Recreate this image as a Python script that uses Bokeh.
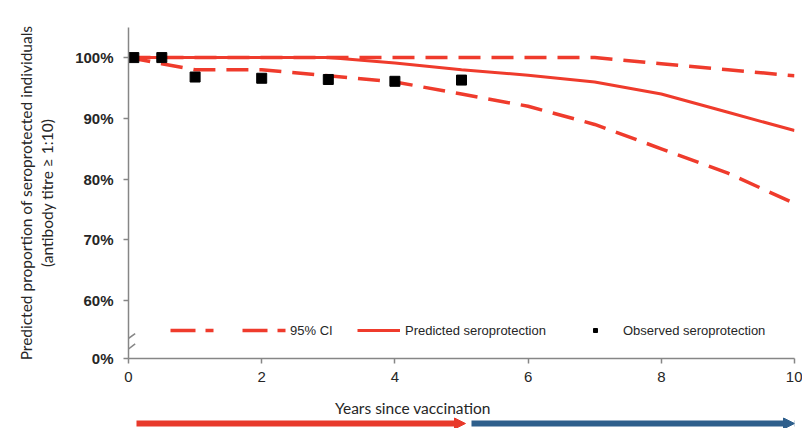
from bokeh.plotting import figure
from bokeh.models import Range1d, FixedTicker, Legend, LegendItem, Arrow, NormalHead, Label
from bokeh.layouts import column
from bokeh.embed import file_html
from bokeh.resources import INLINE

# ---- data ----
years = [0, 1, 2, 3, 4, 5, 6, 7, 8, 9, 10]
predicted = [100, 100, 100, 100, 99.1, 98.0, 97.1, 96.0, 94.0, 91.0, 88.0]

ci_years = [0, 0.5, 1, 2, 3, 4, 5, 6, 7, 8, 9, 10]
ci_lower = [100, 99.0, 98.0, 98.0, 97.0, 96.0, 94.0, 92.0, 89.0, 85.0, 81.0, 76.0]
ci_upper = [100, 100, 100, 100, 100, 100, 100, 100, 100, 99.0, 98.0, 97.0]

obs_years = [0.08, 0.5, 1, 2, 3, 4, 5]
observed = [100, 100, 96.8, 96.6, 96.4, 96.1, 96.3]

x_ticks = [0, 2, 4, 6, 8, 10]
y_ticks = [50.5, 60, 70, 80, 90, 100]
y_tick_labels = ["0%", "60%", "70%", "80%", "90%", "100%"]

# axis break marks
break_x0 = [-0.09, -0.08]
break_x1 = [0.10, 0.10]
break_y0 = [53.1, 51.4]
break_y1 = [54.6, 52.9]

# period arrows below the chart
arrow_start = [0.12, 5.15]
arrow_end = [5.06, 10.0]
arrow_colors = ["#E8392B", "#2E5F8C"]

RED = "#EF3B2C"
GREY = "#868686"
TXT = "#262626"
NAN = float("nan")

p = figure(width=802, height=390, x_range=Range1d(0, 10), y_range=Range1d(50.5, 104.95),
           output_backend="svg", toolbar_location=None,
           min_border_left=128, min_border_right=8, min_border_top=27, min_border_bottom=32)
p.grid.visible = False
p.outline_line_color = None
p.background_fill_color = "white"

# lines
p.line(ci_years, ci_upper, line_color=RED, line_width=3.5, line_dash="22 11")
p.line(ci_years, ci_lower, line_color=RED, line_width=3.5, line_dash="22 11")
p.line(years, predicted, line_color=RED, line_width=3)
p.scatter(obs_years, observed, marker="square", size=10, fill_color="black", line_color="black")

# legend sample renderers (no visible data)
r_ci = p.line([NAN], [NAN], line_color=RED, line_width=3.5, line_dash="25 10 8 29")
r_pred = p.line([NAN], [NAN], line_color=RED, line_width=3)
r_obs = p.scatter([NAN], [NAN], marker="square", size=7, fill_color="black", line_color="black")

def add_legend(label, rend, loc, gw, standoff):
    lg = Legend(items=[LegendItem(label=label, renderers=[rend])], location=loc,
                orientation="horizontal", padding=0, margin=0, spacing=0,
                glyph_width=gw, glyph_height=20, label_height=20, label_standoff=standoff,
                label_text_font="Liberation Sans", label_text_font_size="13px",
                label_text_color=TXT, border_line_color=None, background_fill_alpha=0)
    p.add_layout(lg, "center")

add_legend("95% CI", r_ci, (42, 18), 117, 3)
add_legend("Predicted seroprotection", r_pred, (229, 18), 43, 5)
add_legend("Observed seroprotection", r_obs, (462, 18), 10, 23)

# axes
xa = p.xaxis[0]
xa.ticker = FixedTicker(ticks=x_ticks)
xa.major_tick_out = 5
xa.major_tick_in = 0
xa.minor_tick_line_color = None
xa.axis_line_color = GREY
xa.axis_line_width = 1.5
xa.major_tick_line_color = GREY
xa.major_tick_line_width = 1.5
xa.major_label_text_font = "Liberation Sans"
xa.major_label_text_font_size = "15px"
xa.major_label_text_color = TXT
xa.major_label_standoff = 8

ya = p.yaxis[0]
ya.ticker = FixedTicker(ticks=y_ticks)
ya.major_label_overrides = {t: l for t, l in zip(y_ticks, y_tick_labels)}
ya.major_tick_out = 5
ya.major_tick_in = 0
ya.minor_tick_line_color = None
ya.axis_line_color = GREY
ya.axis_line_width = 1.5
ya.major_tick_line_color = GREY
ya.major_tick_line_width = 1.5
ya.major_label_text_font = "Liberation Sans"
ya.major_label_text_font_style = "bold"
ya.major_label_text_font_size = "15px"
ya.major_label_text_color = TXT
ya.major_label_standoff = 10
ya.axis_label = "Predicted proportion of seroprotected individuals\n(antibody titre \u2265 1:10)"
ya.axis_label_text_font = "Lato"
ya.axis_label_text_font_style = "normal"
ya.axis_label_text_font_size = "15.5px"
ya.axis_label_text_color = TXT
ya.axis_label_standoff = 16

for bx0, bx1, by0, by1 in zip(break_x0, break_x1, break_y0, break_y1):
    p.add_layout(Arrow(x_start=bx0, y_start=by0, x_end=bx1, y_end=by1, end=None,
                       line_color=GREY, line_width=1.5))

# bottom strip: x title + arrows
p2 = figure(width=802, height=38, x_range=p.x_range, y_range=Range1d(0, 38),
            output_backend="svg", toolbar_location=None, x_axis_type=None, y_axis_type=None,
            min_border_left=128, min_border_right=8, min_border_top=0, min_border_bottom=0)
p2.grid.visible = False
p2.outline_line_color = None
p2.add_layout(Label(x=4.27, y=21, text="Years since vaccination", text_align="center",
                    text_baseline="middle", text_font="Lato", text_font_size="15.5px",
                    text_color=TXT))
for s, e, c in zip(arrow_start, arrow_end, arrow_colors):
    p2.add_layout(Arrow(x_start=s, y_start=5, x_end=e, y_end=5, line_color=c, line_width=6,
                        end=NormalHead(size=11, fill_color=c, line_color=c, line_width=1)))

layout = column(p, p2, spacing=0)
open("out.html", "w").write(file_html(layout, INLINE))
